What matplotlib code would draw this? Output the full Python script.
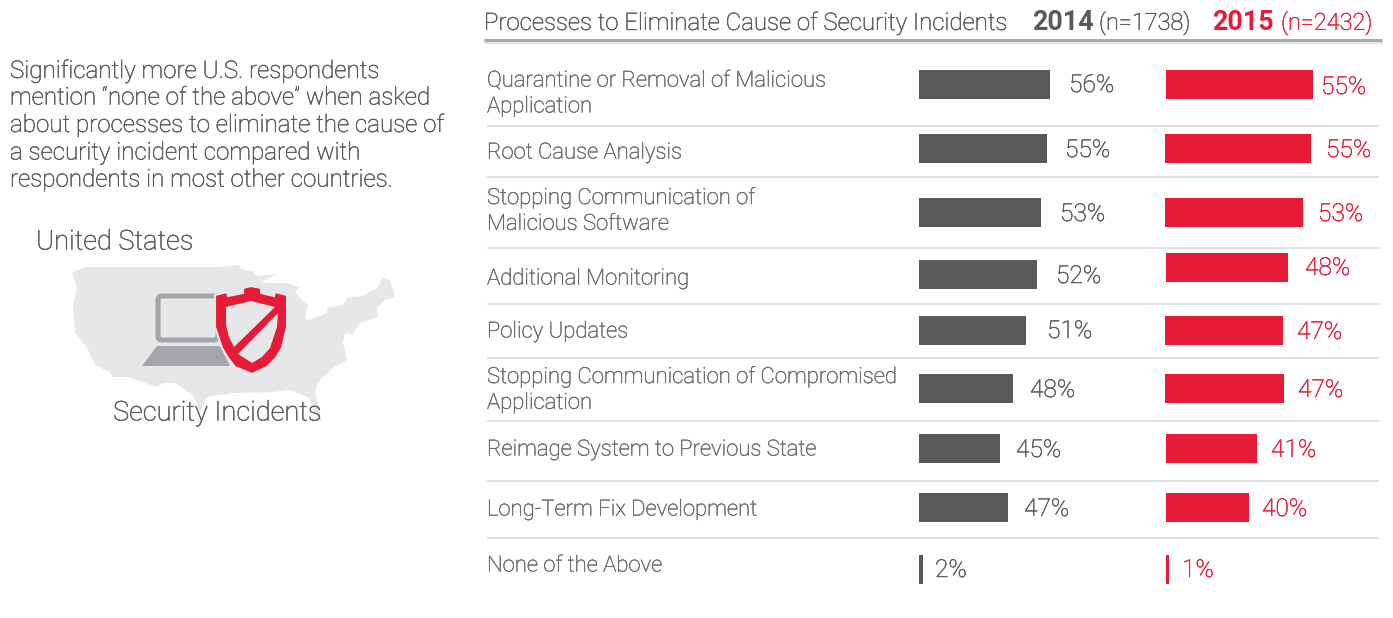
import matplotlib
matplotlib.use('Agg')
import matplotlib.pyplot as plt
import matplotlib.patheffects as pe
from matplotlib.patches import Polygon, FancyBboxPatch

categories = ['Quarantine or Removal of Malicious\nApplication', 'Root Cause Analysis',
              'Stopping Communication of\nMalicious Software', 'Additional Monitoring',
              'Policy Updates', 'Stopping Communication of Compromised\nApplication',
              'Reimage System to Previous State', 'Long-Term Fix Development', 'None of the Above']
labels_2014 = ['56%', '55%', '53%', '52%', '51%', '48%', '45%', '47%', '2%']
labels_2015 = ['55%', '55%', '53%', '48%', '47%', '47%', '41%', '40%', '1%']
# drawn bar lengths as they are in the picture, they do not follow the labels exactly
bars_2014 = [131, 128, 122, 118, 107, 94, 81, 89, 4]
bars_2015 = [147, 146, 138, 122, 118, 119, 91, 83, 3]

intro = ['Significantly more U.S. respondents', 'mention \u201cnone of the above\u201d when asked',
         'about processes to eliminate the cause of', 'a security incident compared with',
         'respondents in most other countries.']

# layout, in pixels of the 1393x618 image
left_2014 = 919
left_2015 = [1166, 1165, 1165, 1166, 1165, 1165, 1166, 1166, 1166]
top_2014 = [70, 134, 198, 260, 316, 374, 434, 493, 555]
top_2015 = [70, 134, 198, 253, 316, 374, 434, 493, 555]
bar_h = 29
label_y = [94, 153, 211, 279, 332, 390, 450, 510, 566]
val_x_2014 = [1069, 1065, 1060, 1056, 1047, 1030, 1016, 1024, 935]
val_y_2014 = [85, 150, 214, 276, 331, 390, 450, 509, 570]
val_x_2015 = [1321, 1326, 1318, 1305, 1297, 1298, 1271, 1262, 1182]
val_y_2015 = [87, 150, 214, 268, 332, 390, 450, 509, 570]
rules_y = [125.5, 177, 247.5, 303.5, 357.5, 421, 480.5, 538]
intro_y = [71, 98, 125, 153, 180]

GREY = '#58595b'
SOFT = '#6a6b6d'
RED = '#e71b36'
MAP = '#e6e7e8'
LAPTOP = '#a3a5a8'

us_map = [(72, 272), (85, 267), (220, 267), (238, 265), (242, 269), (253, 271), (258, 276), (267, 275),
          (277, 274), (270, 278), (260, 282), (275, 283), (288, 283), (300, 288), (295, 291), (300, 298),
          (308, 305), (305, 317), (308, 320), (327, 313), (328, 307), (343, 305), (348, 297), (363, 296),
          (377, 288), (383, 278), (390, 280), (395, 297), (385, 300), (377, 308), (378, 317), (360, 323),
          (352, 335), (345, 333), (343, 343), (347, 360), (333, 368), (318, 382), (315, 392), (322, 422),
          (317, 418), (308, 397), (290, 390), (273, 392), (233, 393), (207, 397), (200, 412), (193, 395),
          (175, 383), (163, 383), (157, 387), (127, 377), (113, 377), (110, 372), (95, 365), (87, 348),
          (75, 332), (73, 305), (77, 288)]
laptop_base = [(142, 366), (157, 346), (220, 346), (230, 366)]
shield = [(215, 295), (227, 292), (228, 296), (243, 293), (243, 288), (251, 286), (261, 288), (261, 293),
          (274, 296), (275, 292), (287, 295), (287, 327), (282, 348), (276, 358), (267, 367), (252, 374),
          (235, 367), (228, 358), (222, 348), (215, 327)]
shield_hole_a = [(226, 307), (251, 301), (275, 307), (234, 347), (229, 337), (226, 325)]
shield_hole_b = [(278, 313), (277, 327), (270, 348), (262, 357), (252, 363), (238, 354)]

plt.rcParams['font.family'] = ['Roboto', 'DejaVu Sans']


def label(x, y, s, size, color=GREY, weight='light', **kw):
    # light face is a bit too thin next to the original, so give it a hairline
    t = ax.text(x, y, s, fontsize=size, color=color, va='center', weight=weight, **kw)
    if weight == 'light':
        t.set_path_effects([pe.withStroke(linewidth=0.35, foreground=color)])
    return t


fig = plt.figure(figsize=(13.93, 6.18), dpi=100)
ax = fig.add_axes([0, 0, 1, 1])
ax.set_xlim(0, 1393)
ax.set_ylim(618, 0)
ax.axis('off')

# left panel
for s, y in zip(intro, intro_y):
    label(10, y, s, 17.4)
label(36, 242, 'United States', 19.6)

ax.add_patch(Polygon(us_map, closed=True, fc=MAP, ec='none'))
ax.add_patch(FancyBboxPatch((158, 296), 60, 44, boxstyle='round,pad=0,rounding_size=4',
                            fc='none', ec=LAPTOP, lw=3.6))
ax.add_patch(Polygon(laptop_base, closed=True, fc=LAPTOP, ec='none'))
ax.add_patch(Polygon(shield, closed=True, fc=RED, ec=MAP, lw=1.5))
ax.add_patch(Polygon(shield_hole_a, closed=True, fc=MAP, ec='none'))
ax.add_patch(Polygon(shield_hole_b, closed=True, fc=MAP, ec='none'))
label(113, 413, 'Security Incidents', 19.6)

# header
label(484, 23, 'Processes to Eliminate Cause of Security Incidents', 17.3)
label(1032, 22.5, '2014', 19.4, weight='bold')
label(1099, 23, '(n=1738)', 16.9)
label(1212, 22.5, '2015', 19.4, color=RED, weight='bold')
label(1281, 23, '(n=2432)', 16.9, color=RED)
ax.plot([484, 1382], [41.5, 41.5], color='#e4e4e5', lw=2.2, solid_capstyle='butt')
ax.plot([484, 1382], [40, 40], color='#a7a9ac', lw=2.2, solid_capstyle='butt')

# rows
for y in rules_y:
    ax.plot([487, 1379], [y, y], color='#d6dada', lw=1.1, solid_capstyle='butt')
for s, y in zip(categories, label_y):
    label(487, y, s, 15.9, color=SOFT, linespacing=1.3)

ax.barh([t + bar_h / 2 for t in top_2014], bars_2014, height=bar_h, left=left_2014, color=GREY)
ax.barh([t + bar_h / 2 for t in top_2015], bars_2015, height=bar_h, left=left_2015, color=RED)
for s, x, y in zip(labels_2014, val_x_2014, val_y_2014):
    label(x, y, s, 17.7)
for s, x, y in zip(labels_2015, val_x_2015, val_y_2015):
    label(x, y, s, 17.7, color=RED)

fig.savefig('out.png', dpi=100)
